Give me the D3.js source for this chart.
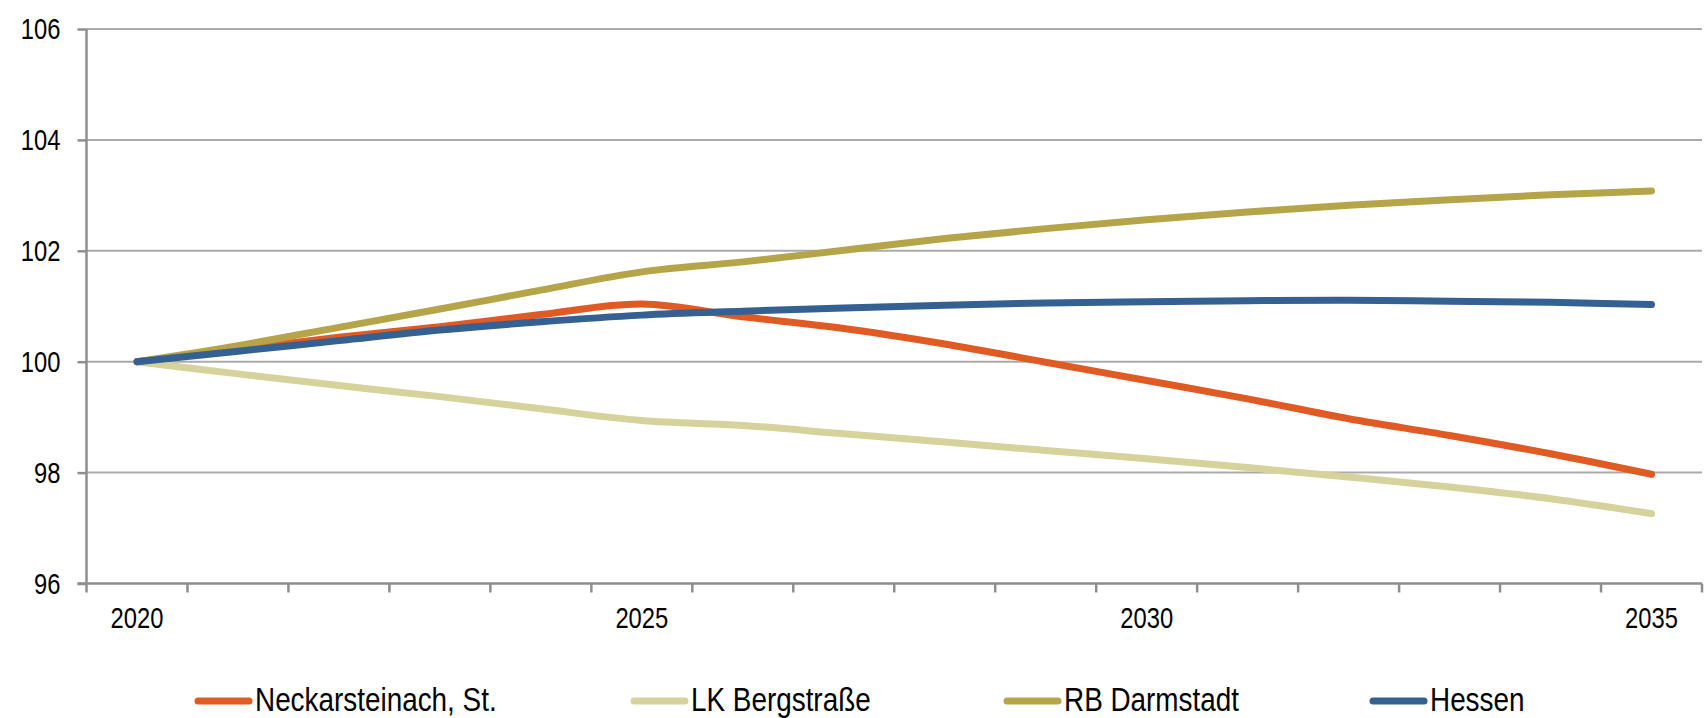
<!DOCTYPE html>
<html>
<head>
<meta charset="utf-8">
<script src="https://cdn.jsdelivr.net/npm/d3@7"></script>
<style>
  html, body { margin: 0; padding: 0; background: #fff; }
  svg { display: block; }
  text { font-family: "Liberation Sans", Arial, sans-serif; fill: #000; }
</style>
</head>
<body>
<svg></svg>
<script>
const width = 1705
const height = 718

// data (index, 2020 = 100)
const years = d3.range(2020, 2036)
const labelYears = [2020, 2025, 2030, 2035]
const yTicks = [96, 98, 100, 102, 104, 106]

const neckarsteinach = [100, 100.22, 100.44, 100.63, 100.85, 101.04, 100.81, 100.60, 100.32, 99.99, 99.66, 99.33, 98.97, 98.67, 98.34, 97.97]
const bergstrasse    = [100, 99.78, 99.57, 99.37, 99.15, 98.94, 98.85, 98.70, 98.55, 98.40, 98.25, 98.09, 97.92, 97.74, 97.53, 97.26]
const darmstadt      = [100, 100.29, 100.62, 100.95, 101.29, 101.62, 101.80, 102.01, 102.22, 102.40, 102.56, 102.70, 102.82, 102.92, 103.01, 103.08]
const hessen         = [100, 100.19, 100.38, 100.57, 100.72, 100.84, 100.91, 100.97, 101.02, 101.06, 101.08, 101.10, 101.11, 101.09, 101.07, 101.03]

const seriesNames = ["Neckarsteinach, St.", "LK Bergstraße", "RB Darmstadt", "Hessen"]
const seriesValues = [neckarsteinach, bergstrasse, darmstadt, hessen]
const colors = ["#E05A24", "#D6D29C", "#B5A548", "#356092"]

const series = seriesNames.map((name, i) => ({
  name: name,
  color: colors[i],
  values: years.map((yr, j) => ({ year: yr, value: seriesValues[i][j] }))
}))

// no narrow font installed, so squeeze the sans horizontally
const narrow = 0.82

const margin = { left: 86.5, right: 3, top: 29, bottom: 134.5 }

const svg = d3.select('svg')
  .attr('width', width)
  .attr('height', height)

const x = d3.scaleBand()
  .domain(years)
  .range([margin.left, width - margin.right])

const y = d3.scaleLinear()
  .domain([96, 106])
  .range([height - margin.bottom, margin.top])

// gridlines
svg.append("g")
  .selectAll("line")
  .data(yTicks.filter(d => d !== 96))
  .enter()
  .append("line")
  .attr("x1", margin.left)
  .attr("x2", width - margin.right)
  .attr("y1", d => y(d))
  .attr("y2", d => y(d))
  .style("stroke", "#ABABAB")
  .attr("stroke-width", 2)

// y axis
const yAxis = svg.append("g")
  .attr("transform", `translate(${margin.left},0)`)
  .call(d3.axisLeft(y).tickValues(yTicks).tickSize(9).tickFormat(""))
yAxis.select(".domain").attr("stroke", "#8E8E8E").attr("stroke-width", 2.5)
  .attr("d", `M0,${y(106)}V${y(96) + 9}`)
yAxis.selectAll(".tick line").attr("stroke", "#8E8E8E").attr("stroke-width", 2.5)

svg.append("g")
  .selectAll("text")
  .data(yTicks)
  .enter()
  .append("text")
  .attr("transform", d => `translate(${margin.left - 26},${y(d)}) scale(${narrow},1)`)
  .attr("dy", "0.36em")
  .attr("text-anchor", "end")
  .style("font-size", "29px")
  .text(d => d)

// x axis: ticks between categories, labels every 5 years
const xAxis = svg.append("g")
  .attr("transform", `translate(0,${y(96)})`)
xAxis.append("line")
  .attr("x1", margin.left - 9)
  .attr("x2", width - margin.right)
  .attr("stroke", "#8E8E8E")
  .attr("stroke-width", 2.5)
xAxis.selectAll(".xt")
  .data(years.slice(1).map(d => x(d)).concat([x.range()[1]]))
  .enter()
  .append("line")
  .attr("class", "xt")
  .attr("x1", d => d)
  .attr("x2", d => d)
  .attr("y1", 0)
  .attr("y2", 9)
  .attr("stroke", "#8E8E8E")
  .attr("stroke-width", 2.5)
xAxis.selectAll(".xl")
  .data(labelYears)
  .enter()
  .append("text")
  .attr("class", "xl")
  .attr("transform", d => `translate(${x(d) + x.bandwidth() / 2},44.5) scale(${narrow},1)`)
  .attr("text-anchor", "middle")
  .style("font-size", "29px")
  .text(d => d)

// lines
const line = d3.line()
  .x(d => x(d.year) + x.bandwidth() / 2)
  .y(d => y(d.value))
  .curve(d3.curveCardinal.tension(0))

svg.append("g")
  .selectAll("path")
  .data(series)
  .enter()
  .append("path")
  .attr("d", d => line(d.values))
  .attr("fill", "none")
  .attr("stroke", d => d.color)
  .attr("stroke-width", 7)
  .attr("stroke-linecap", "round")
  .attr("stroke-linejoin", "round")

// legend
const legendX = [195, 631, 1004, 1370]
const legend = svg.append("g")
  .selectAll("g")
  .data(series)
  .enter()
  .append("g")
  .attr("transform", (d, i) => `translate(${legendX[i]},701)`)
legend.append("line")
  .attr("x1", 3)
  .attr("x2", 54)
  .attr("stroke", d => d.color)
  .attr("stroke-width", 7)
  .attr("stroke-linecap", "round")
legend.append("text")
  .attr("transform", `translate(60,10) scale(${narrow},1)`)
  .style("font-size", "34px")
  .text(d => d.name)
</script>
</body>
</html>
